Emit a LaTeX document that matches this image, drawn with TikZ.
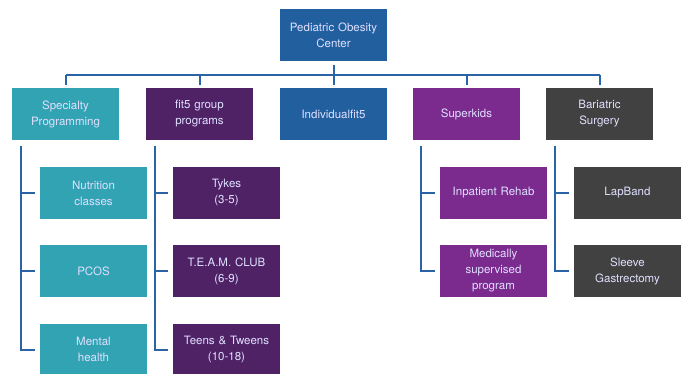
\documentclass[tikz,border=0pt]{standalone}
\usepackage{fontspec}
\setmainfont{TeX Gyre Heros}
\usepackage{xcolor}
\definecolor{navy}{HTML}{215F9F}
\definecolor{teal}{HTML}{32A3B3}
\definecolor{grape}{HTML}{4F2266}
\definecolor{violet}{HTML}{7B2A8E}
\definecolor{slate}{HTML}{414141}
\definecolor{wire}{HTML}{2A64A6}
\tikzset{
  box/.style={rectangle, minimum width=107pt, minimum height=52pt, inner sep=1pt,
    text width=104pt, align=center, text=white!88!blue,
    font=\fontsize{11.5}{16}\selectfont},
  conn/.style={draw=wire, line width=2pt},
}
\begin{document}
\begin{tikzpicture}[x=1pt, y=-1pt]
\useasboundingbox (0,0) rectangle (686,373);
%		\draw[help lines] (0,0) grid (686,373);
\node[box, fill=navy] (center) at (333.5,35) {Pediatric Obesity\\Center};
\node[box, fill=teal] (spec) at (65.5,114) {Specialty\\Programming};
\node[box, fill=grape] (group) at (199.5,114) {fit5 group\\programs};
\node[box, fill=navy] (indiv) at (333.5,114) {Individualfit5};
\node[box, fill=violet] (superkids) at (466.5,114) {Superkids};
\node[box, fill=slate] (bariatric) at (599.5,114) {Bariatric\\Surgery};
% specialty programming
\node[box, fill=teal] (nutrition) at (93.5,193) {Nutrition\\classes};
\node[box, fill=teal] (pcos) at (93.5,271) {PCOS};
\node[box, fill=teal] (mental) at (93.5,349.5) {Mental\\health};
% fit5 groups
\node[box, fill=grape] (tykes) at (226.5,193) {Tykes\\(3-5)};
\node[box, fill=grape] (team) at (226.5,271) {T.E.A.M. CLUB\\(6-9)};
\node[box, fill=grape] (teens) at (226.5,349.5) {Teens \& Tweens\\(10-18)};
% superkids
\node[box, fill=violet] (rehab) at (493.5,193) {Inpatient Rehab};
\node[box, fill=violet] (medical) at (493.5,271) {Medically\\supervised\\program};
% bariatric
\node[box, fill=slate] (lapband) at (627.5,193) {LapBand};
\node[box, fill=slate] (sleeve) at (627.5,271) {Sleeve\\Gastrectomy};
% top bus
\coordinate (bus) at (333.5,75);
\draw[conn] (spec.north |- bus) -- (bariatric.north |- bus);
\draw[conn, shorten <=4pt, shorten >=3pt] (center) -- (indiv);
\draw[conn, shorten >=3pt] (spec.north |- bus) -- (spec.north);
\draw[conn, shorten >=3pt] (group.north |- bus) -- (group.north);
\draw[conn, shorten >=3pt] (superkids.north |- bus) -- (superkids.north);
\draw[conn, shorten >=3pt] (bariatric.north |- bus) -- (bariatric.north);
% child spines
\coordinate (s1) at (21,146);
\coordinate (s2) at (155,146);
\coordinate (s3) at (421,146);
\coordinate (s4) at (555,146);
\draw[conn] (s1) -- (s1 |- mental) -- ([xshift=-5pt]mental.west);
\draw[conn] (s1 |- nutrition) -- ([xshift=-5pt]nutrition.west);
\draw[conn] (s1 |- pcos) -- ([xshift=-5pt]pcos.west);
\draw[conn] (s2) -- (s2 |- teens) -- ([xshift=-5pt]teens.west);
\draw[conn] (s2 |- tykes) -- ([xshift=-5pt]tykes.west);
\draw[conn] (s2 |- team) -- ([xshift=-5pt]team.west);
\draw[conn] (s3) -- (s3 |- medical) -- ([xshift=-5pt]medical.west);
\draw[conn] (s3 |- rehab) -- ([xshift=-5pt]rehab.west);
\draw[conn] (s4) -- (s4 |- sleeve) -- ([xshift=-5pt]sleeve.west);
\draw[conn] (s4 |- lapband) -- ([xshift=-5pt]lapband.west);
\end{tikzpicture}
\end{document}
